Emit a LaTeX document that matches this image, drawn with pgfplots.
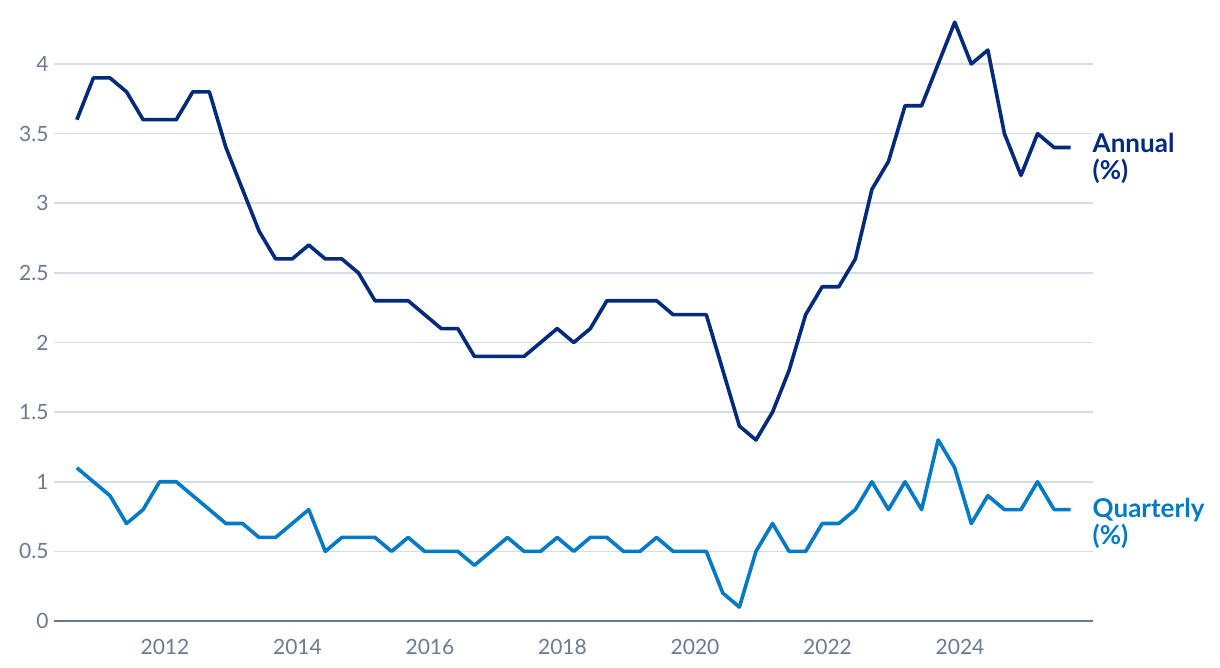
\documentclass[border=0pt]{standalone}
\usepackage{fontspec}
\setmainfont{Lato}
\usepackage{pgfplots}
\usepackage{pgfplotstable}
\pgfplotsset{compat=1.18}

\definecolor{annualc}{HTML}{002A7A}
\definecolor{quartc}{HTML}{007AC4}
\definecolor{tickc}{HTML}{6B7A90}
\definecolor{gridc}{HTML}{D5DAE6}
\definecolor{axisc}{HTML}{6B778C}

% quarter (decimal year), annual %, quarterly %
\pgfplotstableread{
t annual quarterly
2010.67 3.6 1.1
2010.92 3.9 1.0
2011.17 3.9 0.9
2011.42 3.8 0.7
2011.67 3.6 0.8
2011.92 3.6 1.0
2012.17 3.6 1.0
2012.42 3.8 0.9
2012.67 3.8 0.8
2012.92 3.4 0.7
2013.17 3.1 0.7
2013.42 2.8 0.6
2013.67 2.6 0.6
2013.92 2.6 0.7
2014.17 2.7 0.8
2014.42 2.6 0.5
2014.67 2.6 0.6
2014.92 2.5 0.6
2015.17 2.3 0.6
2015.42 2.3 0.5
2015.67 2.3 0.6
2015.92 2.2 0.5
2016.17 2.1 0.5
2016.42 2.1 0.5
2016.67 1.9 0.4
2016.92 1.9 0.5
2017.17 1.9 0.6
2017.42 1.9 0.5
2017.67 2.0 0.5
2017.92 2.1 0.6
2018.17 2.0 0.5
2018.42 2.1 0.6
2018.67 2.3 0.6
2018.92 2.3 0.5
2019.17 2.3 0.5
2019.42 2.3 0.6
2019.67 2.2 0.5
2019.92 2.2 0.5
2020.17 2.2 0.5
2020.42 1.8 0.2
2020.67 1.4 0.1
2020.92 1.3 0.5
2021.17 1.5 0.7
2021.42 1.8 0.5
2021.67 2.2 0.5
2021.92 2.4 0.7
2022.17 2.4 0.7
2022.42 2.6 0.8
2022.67 3.1 1.0
2022.92 3.3 0.8
2023.17 3.7 1.0
2023.42 3.7 0.8
2023.67 4.0 1.3
2023.92 4.3 1.1
2024.17 4.0 0.7
2024.42 4.1 0.9
2024.67 3.5 0.8
2024.92 3.2 0.8
2025.17 3.5 1.0
2025.42 3.4 0.8
2025.67 3.4 0.8
}\wpidata

\begin{document}
\begin{tikzpicture}[x=1pt,y=1pt]
\path[use as bounding box] (0,0) rectangle (1220,668);
\begin{axis}[
    at={(54pt,47pt)}, anchor=south west,
    scale only axis,
    width=1039pt, height=612.7pt,
    xmin=2010.325, xmax=2026.007,
    ymin=0, ymax=4.4,
    axis line style={draw=none},
    axis x line*=bottom,
    axis y line*=left,
    xtick={2012,2014,...,2024},
    ytick={0,0.5,...,4},
    yticklabels={0,0.5,1,1.5,2,2.5,3,3.5,4},
    xticklabel style={/pgf/number format/1000 sep={}},
    /pgf/number format/assume math mode=true,
    tick style={draw=none},
    ymajorgrids,
    grid style={gridc, line width=1.6pt},
    ticklabel style={font=\fontsize{21}{21}\selectfont, text=tickc},
    xticklabel style={yshift=-15pt},
    yticklabel style={xshift=-2pt},
    clip=false,
]
\addplot[quartc, line width=3.6pt, line join=round] table[x=t, y=quarterly] {\wpidata};
\addplot[annualc, line width=3.6pt, line join=round] table[x=t, y=annual] {\wpidata};
\draw[axisc, line width=2pt] (rel axis cs:0,0) -- (rel axis cs:1,0);
\node[anchor=base west, inner sep=0pt, align=left, text=annualc,
      font=\fontsize{26}{27}\selectfont\bfseries] at (axis cs:2026.0,3.167) {Annual\\(\%)};
\node[anchor=base west, inner sep=0pt, align=left, text=quartc,
      font=\fontsize{26}{27}\selectfont\bfseries] at (axis cs:2026.0,0.546) {Quarterly\\(\%)};
\end{axis}
\end{tikzpicture}
\end{document}
